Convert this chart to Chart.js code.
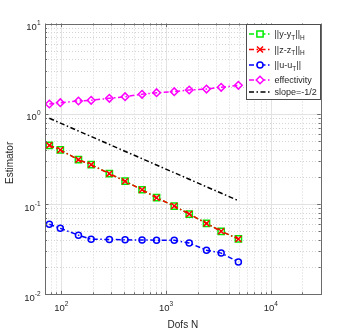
<!DOCTYPE html>
<html>
<head>
<meta charset="utf-8">
<script src="https://cdn.jsdelivr.net/npm/chart.js@4/dist/chart.umd.min.js"></script>
<style>
  html, body { margin: 0; padding: 0; background: #fff; }
  canvas { display: block; }
</style>
</head>
<body>
<canvas id="chart" width="354" height="332"></canvas>
<script>
// data
const dofs = [77, 98, 146, 193, 288, 407, 591, 813, 1199, 1667, 2437, 3365, 4912];
const errY = [0.447, 0.397, 0.310, 0.273, 0.217, 0.179, 0.144, 0.1175, 0.095, 0.0775, 0.061, 0.0499, 0.041];
const errZ = [0.447, 0.397, 0.310, 0.273, 0.217, 0.179, 0.144, 0.1175, 0.095, 0.0775, 0.061, 0.0499, 0.041];
const errU = [0.0596, 0.0538, 0.0452, 0.0408, 0.0405, 0.0402, 0.0399, 0.0398, 0.0397, 0.0370, 0.0308, 0.0286, 0.0228];
const effectivity = [1.283, 1.326, 1.385, 1.41, 1.483, 1.546, 1.644, 1.712, 1.756, 1.834, 1.88, 1.965, 2.068];
const slopeX = [77, 4912];
const slopeY = [0.891, 0.109];

const xTickExp = [2, 3, 4];
const yTickExp = [-2, -1, 0, 1];
const xLabel = "Dofs N";
const yLabel = "Estimator";

// legend labels: [text, isSubscript]
const legendItems = [
  { ds: 1, parts: [["||y-y", 0], ["T", 1], ["||", 0], ["H", 1]] },
  { ds: 0, parts: [["||z-z", 0], ["T", 1], ["||", 0], ["H", 1]] },
  { ds: 2, parts: [["||u-u", 0], ["T", 1], ["||", 0]] },
  { ds: 3, parts: [["effectivity", 0]] },
  { ds: 4, parts: [["slope=-1/2", 0]] }
];

const FONT = '"Liberation Sans", Arial, Helvetica, sans-serif';
const DASH = [5, 2.5, 1.5, 2.5];
const AXIS_COLOR = "#6b6b6b";

function pts(xs, ys) {
  return xs.map((x, i) => ({ x, y: ys[i] }));
}

function series(data, color, style, radius) {
  return {
    data,
    borderColor: color,
    backgroundColor: "rgba(0,0,0,0)",
    pointBackgroundColor: "rgba(0,0,0,0)",
    pointBorderColor: color,
    borderWidth: 1.5,
    borderDash: DASH,
    pointStyle: style,
    pointRadius: radius,
    pointBorderWidth: 1.5,
    pointHoverRadius: radius,
    tension: 0
  };
}

const datasets = [
  series(pts(dofs, errZ), "#ff0000", "crossRot", 4.2),
  series(pts(dofs, errY), "#00ee00", "rect", 4.4),
  series(pts(dofs, errU), "#0000ff", "circle", 3),
  series(pts(dofs, effectivity), "#ff00ff", "rectRot", 3.8),
  series(pts(slopeX, slopeY), "#000000", false, 0)
];

function drawPowerLabel(ctx, exp, x, y, align) {
  ctx.font = "9.5px " + FONT;
  const w1 = ctx.measureText("10").width;
  ctx.font = "6.5px " + FONT;
  const sup = String(exp);
  const w2 = ctx.measureText(sup).width;
  let left = align === "right" ? x - w1 - w2 : x - (w1 + w2) / 2;
  ctx.textAlign = "left";
  ctx.textBaseline = "alphabetic";
  ctx.font = "9.5px " + FONT;
  ctx.fillText("10", left, y);
  ctx.font = "6.5px " + FONT;
  ctx.fillText(sup, left + w1, y - 5);
}

const axesPlugin = {
  id: "matlabAxes",
  beforeDatasetsDraw(chart) {
    const { ctx, chartArea: a, scales } = chart;
    const sx = scales.x, sy = scales.y;
    ctx.save();
    ctx.lineWidth = 1;
    // minor grid (dotted)
    ctx.strokeStyle = "#d4d4d4";
    ctx.setLineDash([1, 2]);
    for (let e = 1; e <= 4; e++) {
      for (let m = 2; m <= 9; m++) {
        const v = m * Math.pow(10, e);
        if (v <= sx.min || v >= sx.max) continue;
        const px = Math.round(sx.getPixelForValue(v)) + 0.5;
        ctx.beginPath(); ctx.moveTo(px, a.top); ctx.lineTo(px, a.bottom); ctx.stroke();
      }
    }
    for (let e = -2; e <= 0; e++) {
      for (let m = 2; m <= 9; m++) {
        const v = m * Math.pow(10, e);
        const py = Math.round(sy.getPixelForValue(v)) + 0.5;
        ctx.beginPath(); ctx.moveTo(a.left, py); ctx.lineTo(a.right, py); ctx.stroke();
      }
    }
    // major grid
    ctx.setLineDash([]);
    ctx.strokeStyle = "#e2e2e2";
    xTickExp.forEach(e => {
      const px = Math.round(sx.getPixelForValue(Math.pow(10, e))) + 0.5;
      ctx.beginPath(); ctx.moveTo(px, a.top); ctx.lineTo(px, a.bottom); ctx.stroke();
    });
    yTickExp.forEach(e => {
      const py = Math.round(sy.getPixelForValue(Math.pow(10, e))) + 0.5;
      ctx.beginPath(); ctx.moveTo(a.left, py); ctx.lineTo(a.right, py); ctx.stroke();
    });
    ctx.restore();
  },
  afterDatasetsDraw(chart) {
    const { ctx, chartArea: a, scales } = chart;
    const sx = scales.x, sy = scales.y;
    ctx.save();
    ctx.strokeStyle = AXIS_COLOR;
    ctx.fillStyle = "#262626";
    ctx.lineWidth = 1;
    ctx.setLineDash([]);

    // tick marks on all four sides
    const tick = (v, horiz, len) => {
      if (horiz) {
        const px = Math.round(sx.getPixelForValue(v)) + 0.5;
        ctx.beginPath();
        ctx.moveTo(px, a.bottom); ctx.lineTo(px, a.bottom - len);
        ctx.moveTo(px, a.top); ctx.lineTo(px, a.top + len);
        ctx.stroke();
      } else {
        const py = Math.round(sy.getPixelForValue(v)) + 0.5;
        ctx.beginPath();
        ctx.moveTo(a.left, py); ctx.lineTo(a.left + len, py);
        ctx.moveTo(a.right, py); ctx.lineTo(a.right - len, py);
        ctx.stroke();
      }
    };
    for (let e = 1; e <= 4; e++) {
      for (let m = 1; m <= 9; m++) {
        const v = m * Math.pow(10, e);
        if (v < sx.min || v > sx.max) continue;
        tick(v, true, m === 1 ? 3.5 : 2);
      }
    }
    for (let e = -2; e <= 0; e++) {
      for (let m = 1; m <= 9; m++) {
        tick(m * Math.pow(10, e), false, m === 1 ? 3.5 : 2);
      }
    }

    // axes box
    ctx.strokeRect(Math.round(a.left) + 0.5, Math.round(a.top) + 0.5,
      Math.round(a.right) - Math.round(a.left), Math.round(a.bottom) - Math.round(a.top));

    // tick labels
    xTickExp.forEach(e => {
      drawPowerLabel(ctx, e, sx.getPixelForValue(Math.pow(10, e)), a.bottom + 16.5, "center");
    });
    yTickExp.forEach(e => {
      drawPowerLabel(ctx, e, a.left - 4.5, sy.getPixelForValue(Math.pow(10, e)) + 6.5, "right");
    });

    // axis titles
    ctx.font = "10px " + FONT;
    ctx.textAlign = "center";
    ctx.textBaseline = "alphabetic";
    ctx.fillText(xLabel, (a.left + a.right) / 2, 327.5);
    ctx.save();
    ctx.translate(12.5, (a.top + a.bottom) / 2 + 4);
    ctx.rotate(-Math.PI / 2);
    ctx.fillText(yLabel, 0, 0);
    ctx.restore();

    // legend
    const box = { l: 246.5, t: 24.5, r: 320.5, b: 99.5 };
    ctx.fillStyle = "#ffffff";
    ctx.fillRect(box.l, box.t, box.r - box.l, box.b - box.t);
    ctx.strokeStyle = "#4d4d4d";
    ctx.strokeRect(box.l, box.t, box.r - box.l, box.b - box.t);
    const rows = [34, 49.5, 65, 80, 92];
    legendItems.forEach((item, i) => {
      const ds = chart.data.datasets[item.ds];
      const yy = rows[i];
      ctx.save();
      ctx.strokeStyle = ds.borderColor;
      ctx.lineWidth = ds.borderWidth;
      ctx.setLineDash(DASH);
      ctx.beginPath(); ctx.moveTo(249, yy); ctx.lineTo(271, yy); ctx.stroke();
      ctx.setLineDash([]);
      if (ds.pointStyle) {
        ctx.fillStyle = "#ffffff";
        Chart.helpers.drawPoint(ctx, {
          pointStyle: ds.pointStyle, radius: ds.pointRadius, rotation: 0,
          borderWidth: ds.pointBorderWidth
        }, 260, yy);
      }
      ctx.restore();
      let tx = 274.5;
      ctx.fillStyle = "#262626";
      ctx.textAlign = "left";
      item.parts.forEach(([txt, sub]) => {
        ctx.font = (sub ? "6.5px " : "9px ") + FONT;
        ctx.fillText(txt, tx, sub ? yy + 5.5 : yy + 3.2);
        tx += ctx.measureText(txt).width + (sub ? 0.3 : 0);
      });
    });
    ctx.restore();
  }
};

const chart = new Chart(document.getElementById("chart").getContext("2d"), {
  type: "line",
  data: { datasets },
  options: {
    responsive: false,
    devicePixelRatio: 1,
    animation: false,
    events: [],
    layout: { padding: { left: 45, top: 23.5, right: 33.3, bottom: 37.7 } },
    plugins: { legend: { display: false }, tooltip: { enabled: false } },
    scales: {
      x: { type: "logarithmic", display: false, min: 70, max: 30000 },
      y: { type: "logarithmic", display: false, min: 0.01, max: 10 }
    }
  },
  plugins: [axesPlugin]
});
</script>
</body>
</html>
